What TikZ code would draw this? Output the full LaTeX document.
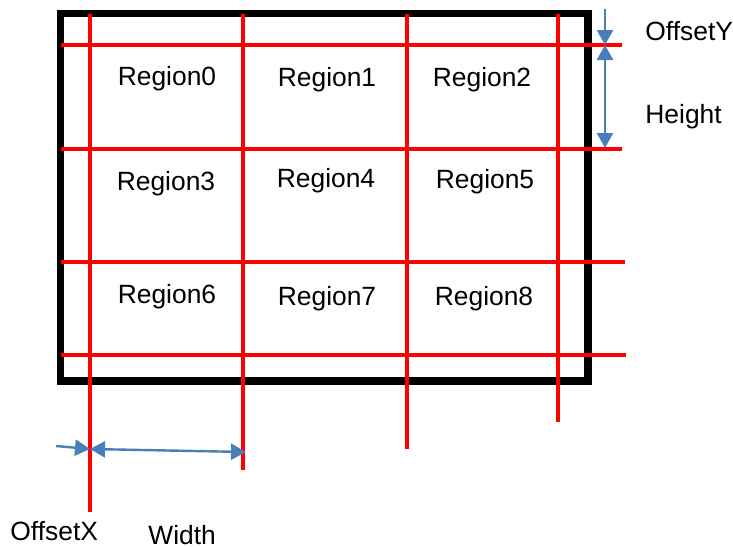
\documentclass[tikz,border=0pt]{standalone}
\usepackage{fontspec}
\setmainfont{Liberation Sans}
\usepackage{tikz}
\usepackage{xcolor}
\usetikzlibrary{arrows.meta}

\definecolor{gridred}{RGB}{255,0,0}
\definecolor{arrowblue}{RGB}{74,126,187}

\tikzset{
  gridline/.style={gridred, line width=2pt},
  dimarrow/.style={arrowblue, line width=1.2pt, -{Triangle[length=7.5pt,width=8pt]}},
  dimboth/.style={arrowblue, line width=1.2pt, {Triangle[length=7.5pt,width=8pt]}-{Triangle[length=7.5pt,width=8pt]}},
  lbl/.style={font=\fontsize{13.2}{16}\selectfont, inner sep=0pt}
}

\begin{document}
\begin{tikzpicture}[x=0.5pt, y=-0.5pt]
		\useasboundingbox (0,0) rectangle (733,546);

		% Draw the frame of the image
		\draw[line width=3.8pt] (60.5,13.5) rectangle (588,381);

		% Vertical red lines of the grid
		\draw[gridline] (90,14) -- (90,512);
		\draw[gridline] (243,14) -- (243,470);
		\draw[gridline] (407,14) -- (407,449);
		\draw[gridline] (558,14) -- (558,422);

		% Horizontal red lines of the grid
		\draw[gridline] (61,45) -- (622,45);
		\draw[gridline] (61,149) -- (622,149);
		\draw[gridline] (61,262) -- (625,262);
		\draw[gridline] (61,355) -- (626,355);

		% Region labels
		\node[lbl] (r0) at (167,79) {Region0};
		\node[lbl] (r1) at (327,80) {Region1};
		\node[lbl] (r2) at (482,80) {Region2};
		\node[lbl] (r3) at (166,184) {Region3};
		\node[lbl] (r4) at (326,181) {Region4};
		\node[lbl] (r5) at (485,182) {Region5};
		\node[lbl] (r6) at (167,297) {Region6};
		\node[lbl] (r7) at (327,299) {Region7};
		\node[lbl] (r8) at (484,299) {Region8};

		% End points of the dimension arrows
		\coordinate (oytop) at (605,9);
		\coordinate (oyend) at (605,45);
		\coordinate (hend) at (605,148);
		\coordinate (oxstart) at (56,446);
		\coordinate (oxend) at (90,449);
		\coordinate (wend) at (246,452);

		% Offset and size arrows with labels
		\draw[dimarrow] (oytop) -- (oyend);
		\node[lbl, anchor=west] (offy) at (645,31) {OffsetY};
		\draw[dimboth] (oyend) -- (hend);
		\node[lbl, anchor=west] (hgt) at (645,117) {Height};
		\draw[dimarrow] (oxstart) -- (oxend);
		\node[lbl, anchor=west] (offx) at (10,531) {OffsetX};
		\draw[dimboth] (oxend) -- (wend);
		\node[lbl, anchor=west] (wdt) at (148,535) {Width};
	\end{tikzpicture}
\end{document}
